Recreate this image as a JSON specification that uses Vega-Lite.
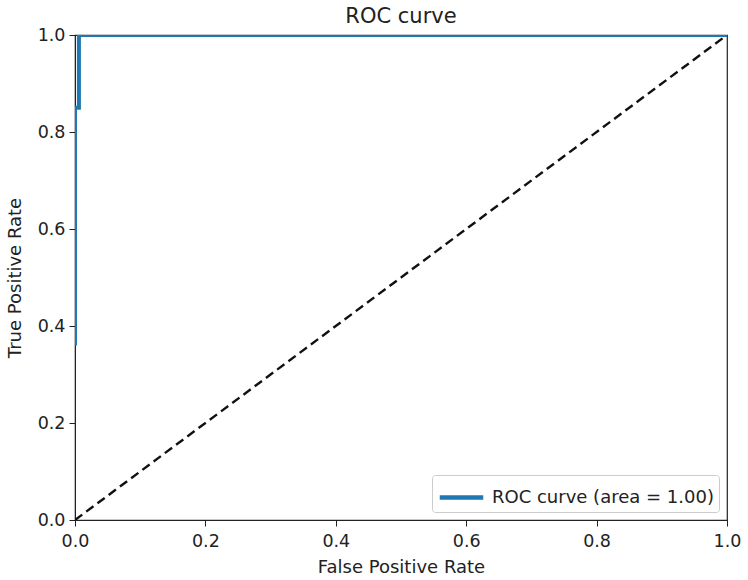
{
  "$schema": "https://vega.github.io/schema/vega-lite/v6.json",
  "width": 652,
  "height": 485,
  "autosize": {"type": "none"},
  "padding": {"left": 75, "top": 35, "right": 21, "bottom": 60},
  "background": "white",
  "config": {
    "font": "DejaVu Sans",
    "view": {"stroke": "#222222", "strokeWidth": 1.2},
    "axis": {"grid": false, "domainColor": "#222222", "tickColor": "#222222", "labelFontSize": 17.5, "titleFontSize": 18, "titleFontWeight": "normal", "labelColor": "#222222", "titleColor": "#222222", "tickSize": 6, "labelPadding": 4, "labelFlush": false}
  },
  "title": {"text": "ROC curve", "fontSize": 21, "fontWeight": "normal", "color": "#222222", "frame": "group", "offset": 8, "dy": 9},
  "datasets": {
    "roc": [
      {"fpr": 0.0, "tpr": 0.36, "series": "ROC curve (area = 1.00)"},
      {"fpr": 0.0, "tpr": 0.85, "series": "ROC curve (area = 1.00)"},
      {"fpr": 0.006, "tpr": 0.85, "series": "ROC curve (area = 1.00)"},
      {"fpr": 0.006, "tpr": 1.0, "series": "ROC curve (area = 1.00)"},
      {"fpr": 1.0, "tpr": 1.0, "series": "ROC curve (area = 1.00)"}
    ],
    "diag": [
      {"fpr": 0.0, "tpr": 0.0},
      {"fpr": 1.0, "tpr": 1.0}
    ]
  },
  "layer": [
    {
      "data": {"name": "diag"},
      "mark": {"type": "line", "color": "#111111", "strokeWidth": 2.4, "strokeDash": [9, 5], "clip": true},
      "encoding": {
        "x": {"field": "fpr", "type": "quantitative"},
        "y": {"field": "tpr", "type": "quantitative"}
      }
    },
    {
      "data": {"name": "roc"},
      "mark": {"type": "line", "strokeWidth": 4, "clip": true},
      "encoding": {
        "x": {"field": "fpr", "type": "quantitative", "title": "False Positive Rate", "scale": {"domain": [0, 1], "nice": false}, "axis": {"values": [0, 0.2, 0.4, 0.6, 0.8, 1.0], "format": ".1f", "labelPadding": 6, "titlePadding": 9}},
        "y": {"field": "tpr", "type": "quantitative", "title": "True Positive Rate", "scale": {"domain": [0, 1], "nice": false}, "axis": {"values": [0, 0.2, 0.4, 0.6, 0.8, 1.0], "format": ".1f", "labelPadding": 4, "titlePadding": 13}},
        "order": {"field": "tpr", "type": "quantitative"},
        "color": {"field": "series", "type": "nominal", "scale": {"range": ["#1f77b4"]}, "legend": {"title": null, "orient": "bottom-right", "labelFontSize": 18, "labelLimit": 400, "labelOffset": 13, "symbolType": "M-1.45,0H1.45", "symbolStrokeWidth": 4.5, "symbolSize": 900, "symbolOffset": 7, "strokeColor": "#cccccc", "padding": 5, "cornerRadius": 3, "fillColor": "white", "offset": 8, "labelColor": "#222222"}}
      }
    }
  ]
}
